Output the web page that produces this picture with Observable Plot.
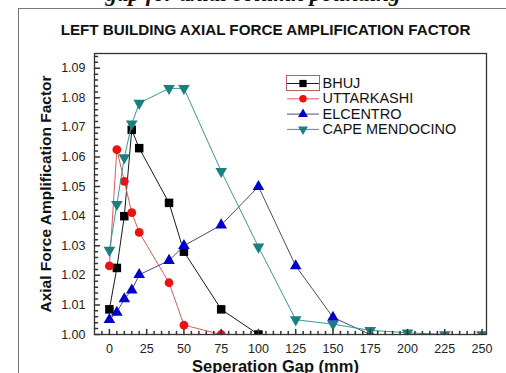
<!DOCTYPE html>
<html><head><meta charset="utf-8">
<script src="https://cdn.jsdelivr.net/npm/d3@7"></script>
<script src="https://cdn.jsdelivr.net/npm/@observablehq/plot@0.6"></script>
<style>
body{margin:0;background:#fff;}
#wrap{position:relative;width:506px;height:373px;overflow:hidden;background:#fff;}
#top{position:absolute;left:0;width:506px;top:-19px;text-align:center;font:italic bold 23px "Liberation Serif",serif;color:#111;white-space:nowrap;}
#box{position:absolute;left:18px;top:8px;width:600px;height:500px;border:1px solid #777;}
#chart{position:absolute;left:0;top:0;}
#legsel{position:absolute;left:286px;top:75px;width:32px;height:14px;border:1px solid #b86060;}
</style></head><body>
<div id="wrap"><div id="top">gap for axial column pounding</div><div id="box"></div><div id="chart"></div><div id="legsel"></div></div>
<script>
// ---- data ----
const gaps = [0, 5, 10, 15, 20, 40, 50, 75, 100, 125, 150, 175, 200, 225, 250];
const seriesNames = ["BHUJ", "UTTARKASHI", "ELCENTRO", "CAPE MENDOCINO"];
const bhuj = [1.0085, 1.0225, 1.0400, 1.0692, 1.0630, 1.0445, 1.0280, 1.0085, 1.0000];
const uttarkashi = [1.0232, 1.0625, 1.0518, 1.0412, 1.0345, 1.0175, 1.0032, 1.0000];
const elcentro = [1.0050, 1.0075, 1.0120, 1.0150, 1.0202, 1.0250, 1.0300, 1.0370, 1.0500, 1.0232, 1.0058, 1.0000];
const capeMendocino = [1.0285, 1.0440, 1.0598, 1.0712, 1.0782, 1.0832, 1.0832, 1.0552, 1.0296, 1.0050, 1.0035, 1.0014, 1.0006, 1.0000, 1.0000];
const xMajor = [0, 25, 50, 75, 100, 125, 150, 175, 200, 225, 250];
const xMinor = d3.range(-5, 251, 5).filter(v => v % 25 !== 0);
const yMajor = [1.00, 1.01, 1.02, 1.03, 1.04, 1.05, 1.06, 1.07, 1.08, 1.09];
const yMinor = d3.range(1.002, 1.095, 0.002).filter(v => Math.abs(v * 100 - Math.round(v * 100)) > 1e-6);
const title = "LEFT BUILDING AXIAL FORCE AMPLIFICATION FACTOR";
const xLabel = "Seperation Gap (mm)";
const yLabel = "Axial Force Amplification Factor";

// ---- styles ----
const values = [bhuj, uttarkashi, elcentro, capeMendocino];
const lineColors = ["#1a1a1a", "#e05a5a", "#4a4a78", "#3a9898"];
const markColors = ["#000000", "#ee1111", "#0000cc", "#1a7f7f"];
const symbols = ["square", "circle", "triangle", "triangle"];
const rotations = [0, 0, 0, 180];
const radii = [4.8, 4.4, 4.3, 4.3];

const tickShape = {draw(ctx, l) { ctx.moveTo(0, 0); ctx.lineTo(0, -l); }};
const xDom = [-10, 253], yDom = [1.0, 1.095];

const marks = [];
values.forEach((vals, s) => {
  const rows = vals.map((v, i) => ({gap: gaps[i], value: v}));
  marks.push(Plot.line(rows, {x: "gap", y: "value", stroke: lineColors[s], strokeWidth: 1, clip: true}));
  marks.push(Plot.dot(rows, {x: "gap", y: "value", symbol: symbols[s], rotate: rotations[s], r: radii[s], fill: markColors[s], stroke: "none", clip: true}));
});
// axis ticks (inward)
marks.push(Plot.vector(xMajor, {x: d => d, y: () => yDom[0], length: 5, anchor: "start", shape: tickShape, stroke: "#333"}));
marks.push(Plot.vector(xMinor, {x: d => d, y: () => yDom[0], length: 3, anchor: "start", shape: tickShape, stroke: "#333"}));
marks.push(Plot.vector(yMajor, {y: d => d, x: () => xDom[0], length: 5, rotate: 90, anchor: "start", shape: tickShape, stroke: "#333"}));
marks.push(Plot.vector(yMinor, {y: d => d, x: () => xDom[0], length: 3, rotate: 90, anchor: "start", shape: tickShape, stroke: "#333"}));
marks.push(Plot.frame({stroke: "#333", strokeWidth: 1.3}));
// legend
seriesNames.forEach((name, s) => {
  const dy = 30 + s * 15.3;
  marks.push(Plot.vector([name], {frameAnchor: "top-left", dx: 208.5, dy, length: 31, rotate: 90, anchor: "middle", shape: tickShape, stroke: lineColors[s], strokeWidth: 1}));
  marks.push(Plot.dot([name], {frameAnchor: "top-left", dx: 208.5, dy, symbol: symbols[s], rotate: rotations[s], r: radii[s] * 0.85, fill: markColors[s]}));
  marks.push(Plot.text([name], {frameAnchor: "top-left", dx: 228, dy, text: d => d, textAnchor: "start", lineAnchor: "middle", fontSize: 14.5, fill: "#111"}));
});
// titles
marks.push(Plot.text([title], {frameAnchor: "top", dx: -25, dy: -23, text: d => d, textAnchor: "middle", lineAnchor: "middle", fontSize: 15.2, fontWeight: "bold", fill: "#111"}));
marks.push(Plot.text([yLabel], {frameAnchor: "left", dx: -48, rotate: -90, text: d => d, textAnchor: "middle", lineAnchor: "middle", fontSize: 15.5, fontWeight: "bold", fill: "#111"}));
marks.push(Plot.text([xLabel], {frameAnchor: "bottom", dx: -15, dy: 32.5, text: d => d, textAnchor: "middle", lineAnchor: "middle", fontSize: 16.5, fontWeight: "bold", fill: "#111"}));

const chart = Plot.plot({
  width: 506, height: 373,
  marginLeft: 94, marginRight: 20, marginTop: 53, marginBottom: 39,
  style: {fontFamily: "'Liberation Sans', Arial, sans-serif", fontSize: "12.5px", color: "#222", background: "transparent", overflow: "visible"},
  x: {domain: xDom, ticks: xMajor, tickSize: 0, tickPadding: 10, label: null},
  y: {domain: yDom, ticks: yMajor, tickFormat: d3.format(".2f"), tickSize: 0, tickPadding: 9, label: null},
  marks
});
document.getElementById("chart").appendChild(chart);
</script>
</body></html>
